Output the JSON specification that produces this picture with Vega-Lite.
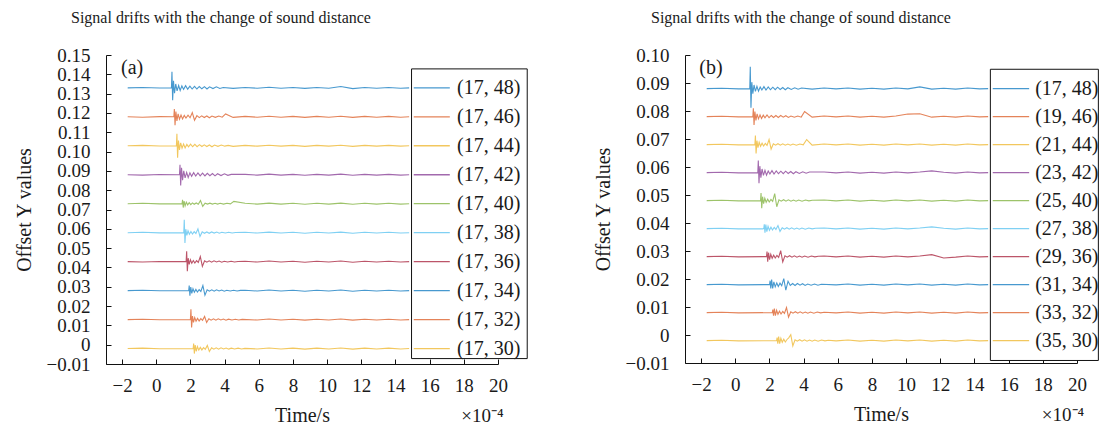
{
  "$schema": "https://vega.github.io/schema/vega-lite/v6.json",
  "background": "white",
  "padding": {"left": 14, "top": 10, "right": 0, "bottom": 0},
  "spacing": 187,
  "bounds": "flush",
  "datasets": {
    "a": [
      {"s": "(17, 48)", "o": 0.133, "t": [-1.67,-0.8,0.2,0.89,0.92,0.96,1.01,1.07,1.14,1.22,1.31,1.4,1.5,1.6,1.72,1.84,1.97,2.1,2.24,2.38,2.52,2.67,2.82,2.97,3.12,3.32,3.52,3.72,3.92,4.5,5.2,5.9,6.6,7.3,8,8.7,9.4,10.1,10.8,11.5,12.2,12.9,13.6,14.3,14.8], "v": [0.133,0.1332,0.1329,0.133,0.1413,0.1266,0.1366,0.1302,0.135,0.1314,0.1342,0.1316,0.134,0.1322,0.1341,0.1323,0.1339,0.1324,0.1338,0.1324,0.1337,0.1325,0.1336,0.1324,0.1335,0.1326,0.1335,0.1327,0.1332,0.1327,0.1332,0.1328,0.1333,0.1328,0.1332,0.1327,0.1332,0.1328,0.1337,0.1326,0.1332,0.1328,0.1332,0.1328,0.133]},
      {"s": "(17, 46)", "o": 0.118, "t": [-1.67,-0.8,0.2,1.03,1.06,1.1,1.15,1.21,1.28,1.36,1.45,1.54,1.64,1.74,1.86,1.98,2.11,2.24,2.38,2.52,2.66,2.81,2.96,3.11,3.26,3.46,3.66,3.86,4.06,4.5,5.2,5.9,6.6,7.3,8,8.7,9.4,10.1,10.8,11.5,12.2,12.9,13.6,14.3,14.8], "v": [0.118,0.1178,0.1181,0.118,0.122,0.1137,0.1207,0.1159,0.1195,0.1168,0.1189,0.1169,0.1187,0.1174,0.1188,0.1175,0.1202,0.1162,0.1186,0.1176,0.1185,0.1176,0.1184,0.1175,0.1184,0.1177,0.1184,0.1178,0.1195,0.1177,0.1182,0.1178,0.1183,0.1178,0.1182,0.1177,0.1182,0.1178,0.1183,0.1177,0.1182,0.1178,0.1182,0.1178,0.118]},
      {"s": "(17, 44)", "o": 0.103, "t": [-1.67,-0.8,0.2,1.18,1.21,1.25,1.3,1.36,1.43,1.51,1.6,1.69,1.79,1.89,2.01,2.13,2.26,2.39,2.53,2.67,2.81,2.96,3.11,3.26,3.41,3.61,3.81,4.01,4.21,4.5,5.2,5.9,6.6,7.3,8,8.7,9.4,10.1,10.8,11.5,12.2,12.9,13.6,14.3,14.8], "v": [0.103,0.1032,0.1029,0.103,0.1092,0.0968,0.1057,0.1009,0.1045,0.1018,0.1039,0.1019,0.1037,0.1024,0.1038,0.1025,0.1037,0.1025,0.1036,0.1026,0.1035,0.1026,0.1034,0.1025,0.1034,0.1027,0.1034,0.1028,0.1032,0.1027,0.1032,0.1028,0.1033,0.1028,0.1032,0.1027,0.1032,0.1028,0.1033,0.1027,0.1032,0.1028,0.1032,0.1028,0.103]},
      {"s": "(17, 42)", "o": 0.088, "t": [-1.67,-0.8,0.2,1.36,1.39,1.43,1.48,1.54,1.61,1.69,1.78,1.87,1.97,2.07,2.19,2.31,2.44,2.57,2.71,2.85,2.99,3.14,3.29,3.44,3.59,3.79,3.99,4.19,4.39,5.2,5.9,6.6,7.3,8,8.7,9.4,10.1,10.8,11.5,12.2,12.9,13.6,14.3,14.8], "v": [0.088,0.0878,0.0881,0.088,0.0932,0.0825,0.0916,0.0852,0.09,0.0864,0.0892,0.0866,0.089,0.0872,0.0891,0.0873,0.0889,0.0874,0.0888,0.0874,0.0887,0.0875,0.0886,0.0874,0.0885,0.0876,0.0885,0.0877,0.0882,0.0882,0.0878,0.0883,0.0878,0.0882,0.0877,0.0882,0.0878,0.0883,0.0877,0.0882,0.0878,0.0882,0.0878,0.088]},
      {"s": "(17, 40)", "o": 0.073, "t": [-1.67,-0.8,0.2,1.51,1.54,1.58,1.63,1.69,1.76,1.84,1.93,2.02,2.12,2.22,2.34,2.46,2.59,2.72,2.86,3,3.14,3.29,3.44,3.59,3.74,3.94,4.14,4.34,4.54,5.2,5.9,6.6,7.3,8,8.7,9.4,10.1,10.8,11.5,12.2,12.9,13.6,14.3,14.8], "v": [0.073,0.0732,0.0729,0.073,0.075,0.071,0.0744,0.0719,0.0738,0.0724,0.0735,0.0725,0.0734,0.0727,0.0734,0.0727,0.0746,0.0716,0.0733,0.0728,0.0733,0.0728,0.0732,0.0728,0.0732,0.0728,0.0732,0.0729,0.0742,0.0732,0.0728,0.0733,0.0728,0.0732,0.0727,0.0732,0.0728,0.0733,0.0727,0.0732,0.0728,0.0732,0.0728,0.073]},
      {"s": "(17, 38)", "o": 0.058, "t": [-1.67,-0.8,0.2,1.61,1.64,1.68,1.73,1.79,1.86,1.94,2.03,2.12,2.22,2.32,2.44,2.56,2.69,2.82,2.96,3.1,3.24,3.39,3.54,3.69,3.84,4.04,4.24,4.44,4.64,5.2,5.9,6.6,7.3,8,8.7,9.4,10.1,10.8,11.5,12.2,12.9,13.6,14.3,14.8], "v": [0.058,0.0582,0.0579,0.058,0.0647,0.0527,0.0598,0.0566,0.059,0.0572,0.0586,0.0573,0.0585,0.0576,0.06,0.056,0.0584,0.0577,0.0584,0.0577,0.0584,0.0578,0.0583,0.0577,0.0582,0.0578,0.0582,0.0578,0.0581,0.0582,0.0578,0.0583,0.0578,0.0582,0.0577,0.0582,0.0578,0.0583,0.0577,0.0582,0.0578,0.0582,0.0578,0.058]},
      {"s": "(17, 36)", "o": 0.043, "t": [-1.67,-0.8,0.2,1.75,1.78,1.82,1.87,1.93,2,2.08,2.17,2.26,2.36,2.46,2.58,2.7,2.83,2.96,3.1,3.24,3.38,3.53,3.68,3.83,3.98,4.18,4.38,4.58,4.78,5.2,5.9,6.6,7.3,8,8.7,9.4,10.1,10.8,11.5,12.2,12.9,13.6,14.3,14.8], "v": [0.043,0.0428,0.0431,0.043,0.0484,0.038,0.0448,0.0416,0.044,0.0422,0.0436,0.0423,0.0435,0.0426,0.0456,0.0406,0.0434,0.0427,0.0434,0.0427,0.0434,0.0428,0.0433,0.0427,0.0432,0.0428,0.0432,0.0428,0.0431,0.0432,0.0428,0.0433,0.0428,0.0432,0.0427,0.0432,0.0428,0.0433,0.0427,0.0432,0.0428,0.0432,0.0428,0.043]},
      {"s": "(17, 34)", "o": 0.028, "t": [-1.67,-0.8,0.2,1.9,1.93,1.97,2.02,2.08,2.15,2.23,2.32,2.41,2.51,2.61,2.73,2.85,2.98,3.11,3.25,3.39,3.53,3.68,3.83,3.98,4.13,4.33,4.53,4.73,4.93,5.2,5.9,6.6,7.3,8,8.7,9.4,10.1,10.8,11.5,12.2,12.9,13.6,14.3,14.8], "v": [0.028,0.0282,0.0279,0.028,0.0306,0.0254,0.0298,0.0266,0.029,0.0272,0.0286,0.0273,0.0285,0.0276,0.0306,0.0256,0.0284,0.0277,0.0284,0.0277,0.0284,0.0278,0.0283,0.0277,0.0282,0.0278,0.0282,0.0278,0.0281,0.0282,0.0278,0.0283,0.0278,0.0282,0.0277,0.0282,0.0278,0.0283,0.0277,0.0282,0.0278,0.0282,0.0278,0.028]},
      {"s": "(17, 32)", "o": 0.013, "t": [-1.67,-0.8,0.2,2,2.03,2.07,2.12,2.18,2.25,2.33,2.42,2.51,2.61,2.71,2.83,2.95,3.08,3.21,3.35,3.49,3.63,3.78,3.93,4.08,4.23,4.43,4.63,4.83,5.03,5.9,6.6,7.3,8,8.7,9.4,10.1,10.8,11.5,12.2,12.9,13.6,14.3,14.8], "v": [0.013,0.0132,0.0129,0.013,0.0183,0.0089,0.0148,0.0116,0.014,0.0122,0.0136,0.0123,0.0135,0.0126,0.0146,0.0115,0.0134,0.0127,0.0134,0.0127,0.0134,0.0128,0.0133,0.0127,0.0132,0.0128,0.0132,0.0128,0.0131,0.0128,0.0133,0.0128,0.0132,0.0127,0.0132,0.0128,0.0133,0.0127,0.0132,0.0128,0.0132,0.0128,0.013]},
      {"s": "(17, 30)", "o": -0.002, "t": [-1.67,-0.8,0.2,2.16,2.19,2.23,2.28,2.34,2.41,2.49,2.58,2.67,2.77,2.87,2.99,3.11,3.24,3.37,3.51,3.65,3.79,3.94,4.09,4.24,4.39,4.59,4.79,4.99,5.19,5.9,6.6,7.3,8,8.7,9.4,10.1,10.8,11.5,12.2,12.9,13.6,14.3,14.8], "v": [-0.002,-0.0018,-0.0021,-0.002,0.0006,-0.0046,-0.0002,-0.0034,-0.001,-0.0028,-0.0014,-0.0027,-0.0015,-0.0024,-0.0004,-0.0035,-0.0016,-0.0023,-0.0016,-0.0023,-0.0016,-0.0022,-0.0017,-0.0023,-0.0018,-0.0022,-0.0018,-0.0022,-0.0019,-0.0022,-0.0017,-0.0022,-0.0018,-0.0023,-0.0018,-0.0022,-0.0017,-0.0023,-0.0018,-0.0022,-0.0018,-0.0022,-0.002]}
    ],
    "b": [
      {"s": "(17, 48)", "o": 0.088, "t": [-1.67,-0.8,0.2,0.85,0.88,0.92,0.97,1.03,1.1,1.18,1.27,1.36,1.46,1.56,1.68,1.8,1.93,2.06,2.2,2.34,2.48,2.63,2.78,2.93,3.08,3.28,3.48,3.68,3.88,4.5,5.2,5.9,6.6,7.3,8,8.7,9.4,10.1,10.8,11.5,12.2,12.9,13.6,14.3,14.8], "v": [0.088,0.0881,0.0879,0.088,0.0958,0.0812,0.0903,0.0862,0.0893,0.087,0.0888,0.0871,0.0886,0.0875,0.0887,0.0875,0.0886,0.0876,0.0885,0.0876,0.0885,0.0877,0.0884,0.0876,0.0883,0.0877,0.0883,0.0878,0.0882,0.0878,0.0882,0.0879,0.0882,0.0878,0.0881,0.0878,0.0882,0.0879,0.0886,0.0878,0.0881,0.0878,0.0882,0.0879,0.088]},
      {"s": "(19, 46)", "o": 0.078, "t": [-1.67,-0.8,0.2,1.03,1.06,1.1,1.15,1.21,1.28,1.36,1.45,1.54,1.64,1.74,1.86,1.98,2.11,2.24,2.38,2.52,2.66,2.81,2.96,3.11,3.26,3.46,3.66,3.86,4.06,4.5,5.2,5.9,6.6,7.3,8,8.7,9.4,10.1,10.8,11.5,12.2,12.9,13.6,14.3,14.8], "v": [0.078,0.0781,0.0779,0.078,0.081,0.075,0.0798,0.0766,0.079,0.0772,0.0786,0.0773,0.0785,0.0776,0.0786,0.0776,0.0784,0.0777,0.0784,0.0777,0.0784,0.0778,0.0783,0.0777,0.0782,0.0778,0.0782,0.0778,0.0798,0.0778,0.0782,0.0779,0.0782,0.0778,0.0781,0.0778,0.0782,0.0789,0.079,0.0778,0.0781,0.0778,0.0782,0.0779,0.078]},
      {"s": "(21, 44)", "o": 0.068, "t": [-1.67,-0.8,0.2,1.15,1.18,1.22,1.27,1.33,1.4,1.48,1.57,1.66,1.76,1.86,1.98,2.1,2.23,2.36,2.5,2.64,2.78,2.93,3.08,3.23,3.38,3.58,3.78,3.98,4.18,4.5,5.2,5.9,6.6,7.3,8,8.7,9.4,10.1,10.8,11.5,12.2,12.9,13.6,14.3,14.8], "v": [0.068,0.0681,0.0679,0.068,0.0712,0.0648,0.0694,0.0669,0.0688,0.0674,0.0685,0.0675,0.0684,0.0677,0.0698,0.0664,0.0683,0.0678,0.0683,0.0678,0.0683,0.0678,0.0682,0.0678,0.0682,0.0678,0.0682,0.0679,0.0698,0.0678,0.0682,0.0679,0.0682,0.0678,0.0681,0.0678,0.0682,0.0679,0.0682,0.0678,0.0681,0.0678,0.0682,0.0679,0.068]},
      {"s": "(23, 42)", "o": 0.058, "t": [-1.67,-0.8,0.2,1.32,1.35,1.39,1.44,1.5,1.57,1.65,1.74,1.83,1.93,2.03,2.15,2.27,2.4,2.53,2.67,2.81,2.95,3.1,3.25,3.4,3.55,3.75,3.95,4.15,4.35,5.2,5.9,6.6,7.3,8,8.7,9.4,10.1,10.8,11.5,12.2,12.9,13.6,14.3,14.8], "v": [0.058,0.0581,0.0579,0.058,0.0623,0.0542,0.0603,0.0562,0.0593,0.057,0.0588,0.0571,0.0586,0.0575,0.0587,0.0575,0.0586,0.0576,0.0585,0.0576,0.0585,0.0577,0.0584,0.0576,0.0583,0.0577,0.0583,0.0578,0.0582,0.0582,0.0579,0.0582,0.0578,0.0581,0.0578,0.0582,0.0579,0.0582,0.0586,0.0581,0.0578,0.0582,0.0579,0.058]},
      {"s": "(25, 40)", "o": 0.048, "t": [-1.67,-0.8,0.2,1.48,1.51,1.55,1.6,1.66,1.73,1.81,1.9,1.99,2.09,2.19,2.31,2.43,2.56,2.69,2.83,2.97,3.11,3.26,3.41,3.56,3.71,3.91,4.11,4.31,4.51,5.2,5.9,6.6,7.3,8,8.7,9.4,10.1,10.8,11.5,12.2,12.9,13.6,14.3,14.8], "v": [0.048,0.0481,0.0479,0.048,0.0507,0.0453,0.0494,0.0469,0.0488,0.0474,0.0485,0.0475,0.0484,0.0477,0.0505,0.0458,0.0483,0.0478,0.0483,0.0478,0.0483,0.0478,0.0482,0.0478,0.0482,0.0478,0.0482,0.0479,0.0481,0.0482,0.0479,0.0482,0.0478,0.0481,0.0478,0.0482,0.0479,0.0482,0.0478,0.0481,0.0478,0.0482,0.0479,0.048]},
      {"s": "(27, 38)", "o": 0.038, "t": [-1.67,-0.8,0.2,1.67,1.7,1.74,1.79,1.85,1.92,2,2.09,2.18,2.28,2.38,2.5,2.62,2.75,2.88,3.02,3.16,3.3,3.45,3.6,3.75,3.9,4.1,4.3,4.5,4.7,5.2,5.9,6.6,7.3,8,8.7,9.4,10.1,10.8,11.5,12.2,12.9,13.6,14.3,14.8], "v": [0.038,0.0381,0.0379,0.038,0.0395,0.0365,0.0394,0.0369,0.0388,0.0374,0.0385,0.0375,0.0384,0.0377,0.0391,0.037,0.0383,0.0378,0.0383,0.0378,0.0383,0.0378,0.0382,0.0378,0.0382,0.0378,0.0382,0.0379,0.0381,0.0382,0.0379,0.0382,0.0378,0.0381,0.0378,0.0382,0.0379,0.0382,0.0386,0.0381,0.0378,0.0382,0.0379,0.038]},
      {"s": "(29, 36)", "o": 0.028, "t": [-1.67,-0.8,0.2,1.83,1.86,1.9,1.95,2.01,2.08,2.16,2.25,2.34,2.44,2.54,2.66,2.78,2.91,3.04,3.18,3.32,3.46,3.61,3.76,3.91,4.06,4.26,4.46,4.66,4.86,5.2,5.9,6.6,7.3,8,8.7,9.4,10.1,10.8,11.5,12.2,12.9,13.6,14.3,14.8], "v": [0.028,0.0281,0.0279,0.028,0.0298,0.0262,0.0294,0.0269,0.0288,0.0274,0.0285,0.0275,0.0284,0.0277,0.0301,0.0261,0.0283,0.0278,0.0283,0.0278,0.0283,0.0278,0.0282,0.0278,0.0282,0.0278,0.0282,0.0279,0.0281,0.0282,0.0279,0.0282,0.0278,0.0281,0.0278,0.0282,0.0279,0.0282,0.0287,0.0275,0.0278,0.0282,0.0279,0.028]},
      {"s": "(31, 34)", "o": 0.018, "t": [-1.67,-0.8,0.2,2.01,2.04,2.08,2.13,2.19,2.26,2.34,2.43,2.52,2.62,2.72,2.84,2.96,3.09,3.22,3.36,3.5,3.64,3.79,3.94,4.09,4.24,4.44,4.64,4.84,5.04,5.9,6.6,7.3,8,8.7,9.4,10.1,10.8,11.5,12.2,12.9,13.6,14.3,14.8], "v": [0.018,0.0181,0.0179,0.018,0.0194,0.0166,0.0198,0.0166,0.019,0.0172,0.0186,0.0173,0.0185,0.0176,0.0201,0.016,0.0192,0.0177,0.0184,0.0177,0.0184,0.0178,0.0183,0.0177,0.0182,0.0178,0.0182,0.0178,0.0181,0.0179,0.0182,0.0178,0.0181,0.0178,0.0182,0.0179,0.0182,0.0178,0.0181,0.0178,0.0182,0.0179,0.018]},
      {"s": "(33, 32)", "o": 0.008, "t": [-1.67,-0.8,0.2,2.17,2.2,2.24,2.29,2.35,2.42,2.5,2.59,2.68,2.78,2.88,3,3.12,3.25,3.38,3.52,3.66,3.8,3.95,4.1,4.25,4.4,4.6,4.8,5,5.2,5.9,6.6,7.3,8,8.7,9.4,10.1,10.8,11.5,12.2,12.9,13.6,14.3,14.8], "v": [0.008,0.0081,0.0079,0.008,0.0091,0.0069,0.0094,0.0069,0.0088,0.0074,0.0085,0.0075,0.0084,0.0077,0.0098,0.0064,0.0083,0.0078,0.0083,0.0078,0.0083,0.0078,0.0082,0.0078,0.0082,0.0078,0.0082,0.0079,0.0081,0.0079,0.0082,0.0078,0.0081,0.0078,0.0082,0.0079,0.0082,0.0078,0.0081,0.0078,0.0082,0.0079,0.008]},
      {"s": "(35, 30)", "o": -0.002, "t": [-1.67,-0.8,0.2,2.42,2.45,2.49,2.54,2.6,2.67,2.75,2.84,2.93,3.03,3.13,3.25,3.37,3.5,3.63,3.77,3.91,4.05,4.2,4.35,4.5,4.65,4.85,5.05,5.25,5.45,5.9,6.6,7.3,8,8.7,9.4,10.1,10.8,11.5,12.2,12.9,13.6,14.3,14.8], "v": [-0.002,-0.0019,-0.0021,-0.002,-0.0009,-0.0031,-0.0006,-0.0031,-0.0012,-0.0026,-0.0015,-0.0025,-0.0016,-0.001,0.0001,-0.0039,-0.0017,-0.0022,-0.0017,-0.0022,-0.0017,-0.0022,-0.0018,-0.0022,-0.0018,-0.0022,-0.0018,-0.0021,-0.0019,-0.0021,-0.0018,-0.0022,-0.0019,-0.0022,-0.0018,-0.0021,-0.0018,-0.0022,-0.0019,-0.0022,-0.0018,-0.0021,-0.002]}
    ]
  },
  "hconcat": [
    {
      "width": 392,
      "height": 309,
      "title": {"text": "Signal drifts with the change of sound distance", "anchor": "start", "frame": "group", "dx": -35, "offset": 20},
      "layer": [
        {
          "data": {"name": "a"},
          "transform": [{"flatten": ["t", "v"]}],
          "mark": {"type": "line", "strokeWidth": 1.1, "opacity": 0.72},
          "encoding": {
            "x": {"field": "t", "type": "quantitative", "scale": {"domain": [-2.94, 20], "nice": false, "zero": false}, "axis": {"values": [-2,0,2,4,6,8,10,12,14,16,18,20], "tickCount": 40, "format": "d", "title": "Time/s", "labelOverlap": false, "labelFlush": false}},
            "y": {"field": "v", "type": "quantitative", "scale": {"domain": [-0.01, 0.15], "nice": false, "zero": false}, "axis": {"values": [-0.01,0,0.01,0.02,0.03,0.04,0.05,0.06,0.07,0.08,0.09,0.1,0.11,0.12,0.13,0.14,0.15], "tickCount": 40, "labelExpr": "datum.value == 0 ? '0' : format(datum.value, '.2f')", "title": "Offset Y values", "labelOverlap": false, "labelFlush": false}},
            "color": {"field": "s", "type": "nominal", "scale": {"domain": ["(17, 48)","(17, 46)","(17, 44)","(17, 42)","(17, 40)","(17, 38)","(17, 36)","(17, 34)","(17, 32)","(17, 30)"], "range": ["#0072BD","#D95319","#EDB120","#7E2F8E","#77AC30","#4DBEEE","#A2142F","#0072BD","#D95319","#EDB120"]}, "legend": null}
          }
        },
        {
          "data": {"values": [{"item": "legend box"}]},
          "mark": {"type": "rect", "fill": "white", "stroke": "#111", "strokeWidth": 1},
          "encoding": {"x": {"datum": 14.94, "type": "quantitative"}, "x2": {"datum": 21.71}, "y": {"datum": 0.1428, "type": "quantitative"}, "y2": {"datum": -0.0072}}
        },
        {
          "data": {"name": "a"},
          "mark": {"type": "rule", "strokeWidth": 1.3, "opacity": 0.72},
          "encoding": {"x": {"datum": 15.07, "type": "quantitative"}, "x2": {"datum": 17.18}, "y": {"field": "o", "type": "quantitative"}, "color": {"field": "s", "type": "nominal", "legend": null}}
        },
        {
          "data": {"name": "a"},
          "mark": {"type": "text", "align": "left", "baseline": "middle", "font": "Liberation Serif", "fontSize": 20, "color": "#1a1a1a"},
          "encoding": {"x": {"datum": 17.6, "type": "quantitative"}, "y": {"field": "o", "type": "quantitative"}, "text": {"field": "s"}}
        },
        {
          "data": {"values": [{"label": "(a)"}]},
          "mark": {"type": "text", "align": "left", "baseline": "middle", "font": "Liberation Serif", "fontSize": 20, "color": "#1a1a1a"},
          "encoding": {"x": {"datum": -2.06, "type": "quantitative"}, "y": {"datum": 0.1431, "type": "quantitative"}, "text": {"field": "label"}}
        },
        {
          "data": {"values": [{"label": "×10⁻⁴"}]},
          "mark": {"type": "text", "align": "center", "baseline": "middle", "font": "Liberation Serif", "fontSize": 19, "color": "#1a1a1a"},
          "encoding": {"x": {"datum": 19.09, "type": "quantitative"}, "y": {"datum": -0.0368, "type": "quantitative"}, "text": {"field": "label"}}
        }
      ]
    },
    {
      "width": 392,
      "height": 308,
      "title": {"text": "Signal drifts with the change of sound distance", "anchor": "start", "frame": "group", "dx": -34, "offset": 20},
      "layer": [
        {
          "data": {"name": "b"},
          "transform": [{"flatten": ["t", "v"]}],
          "mark": {"type": "line", "strokeWidth": 1.1, "opacity": 0.72},
          "encoding": {
            "x": {"field": "t", "type": "quantitative", "scale": {"domain": [-2.94, 20], "nice": false, "zero": false}, "axis": {"values": [-2,0,2,4,6,8,10,12,14,16,18,20], "tickCount": 40, "format": "d", "title": "Time/s", "labelOverlap": false, "labelFlush": false}},
            "y": {"field": "v", "type": "quantitative", "scale": {"domain": [-0.01, 0.1], "nice": false, "zero": false}, "axis": {"values": [-0.01,0,0.01,0.02,0.03,0.04,0.05,0.06,0.07,0.08,0.09,0.1], "tickCount": 40, "labelExpr": "datum.value == 0 ? '0' : format(datum.value, '.2f')", "title": "Offset Y values", "labelOverlap": false, "labelFlush": false}},
            "color": {"field": "s", "type": "nominal", "scale": {"domain": ["(17, 48)","(19, 46)","(21, 44)","(23, 42)","(25, 40)","(27, 38)","(29, 36)","(31, 34)","(33, 32)","(35, 30)"], "range": ["#0072BD","#D95319","#EDB120","#7E2F8E","#77AC30","#4DBEEE","#A2142F","#0072BD","#D95319","#EDB120"]}, "legend": null}
          }
        },
        {
          "data": {"values": [{"item": "legend box"}]},
          "mark": {"type": "rect", "fill": "white", "stroke": "#111", "strokeWidth": 1},
          "encoding": {"x": {"datum": 14.93, "type": "quantitative"}, "x2": {"datum": 21.25}, "y": {"datum": 0.0949, "type": "quantitative"}, "y2": {"datum": -0.0091}}
        },
        {
          "data": {"name": "b"},
          "mark": {"type": "rule", "strokeWidth": 1.3, "opacity": 0.72},
          "encoding": {"x": {"datum": 15.07, "type": "quantitative"}, "x2": {"datum": 17.2}, "y": {"field": "o", "type": "quantitative"}, "color": {"field": "s", "type": "nominal", "legend": null}}
        },
        {
          "data": {"name": "b"},
          "mark": {"type": "text", "align": "left", "baseline": "middle", "font": "Liberation Serif", "fontSize": 20, "color": "#1a1a1a"},
          "encoding": {"x": {"datum": 17.55, "type": "quantitative"}, "y": {"field": "o", "type": "quantitative"}, "text": {"field": "s"}}
        },
        {
          "data": {"values": [{"label": "(b)"}]},
          "mark": {"type": "text", "align": "left", "baseline": "middle", "font": "Liberation Serif", "fontSize": 20, "color": "#1a1a1a"},
          "encoding": {"x": {"datum": -2.1, "type": "quantitative"}, "y": {"datum": 0.0952, "type": "quantitative"}, "text": {"field": "label"}}
        },
        {
          "data": {"values": [{"label": "×10⁻⁴"}]},
          "mark": {"type": "text", "align": "center", "baseline": "middle", "font": "Liberation Serif", "fontSize": 19, "color": "#1a1a1a"},
          "encoding": {"x": {"datum": 19.18, "type": "quantitative"}, "y": {"datum": -0.0285, "type": "quantitative"}, "text": {"field": "label"}}
        }
      ]
    }
  ],
  "resolve": {"scale": {"x": "independent", "y": "independent", "color": "independent"}},
  "config": {
    "view": {"stroke": null},
    "axis": {"grid": false, "domainColor": "#111", "domainWidth": 1, "tickColor": "#111", "tickSize": -5, "tickWidth": 1, "labelFont": "Liberation Serif", "labelFontSize": 19, "labelColor": "#1a1a1a", "titleFont": "Liberation Serif", "titleFontSize": 20, "titleFontWeight": "normal", "titleColor": "#1a1a1a", "labelOverlap": false, "labelFlush": false},
    "axisX": {"labelPadding": 17, "titlePadding": 10},
    "axisY": {"labelPadding": 21, "titlePadding": 12},
    "title": {"font": "Liberation Serif", "fontSize": 16, "fontWeight": "normal", "color": "#1a1a1a"}
  }
}
